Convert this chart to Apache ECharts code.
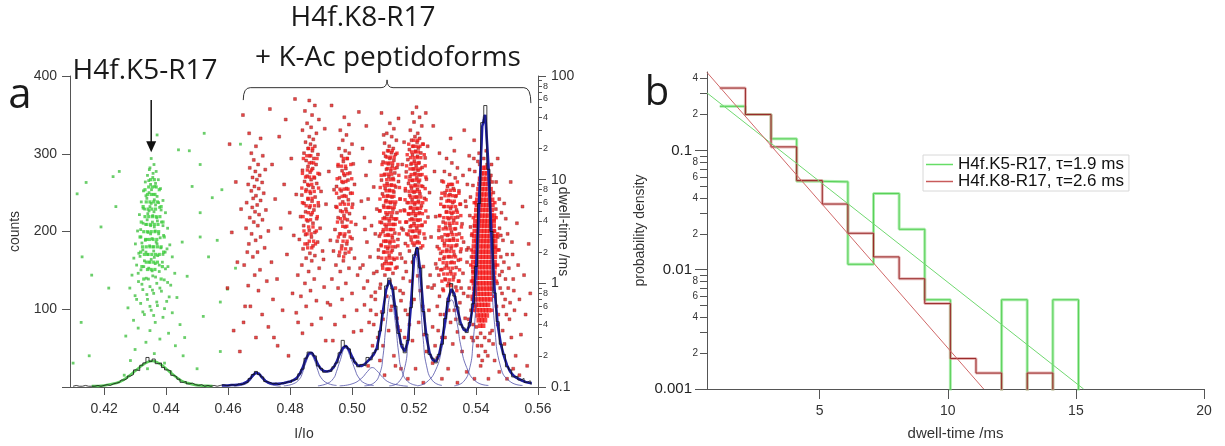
<!DOCTYPE html>
<html><head><meta charset="utf-8">
<script src="https://cdn.jsdelivr.net/npm/echarts@6/dist/echarts.min.js"></script>
<style>html,body{margin:0;padding:0;background:#fff}#c{width:1225px;height:446px}</style>
</head><body><div id="c"></div>
<script>
// ================= DATA =================
const xTicksA = [0.42,0.44,0.46,0.48,0.50,0.52,0.54,0.56];
const countTicks = [0,100,200,300,400];
const countLabels = [100,200,300,400];
const dwellMajor = [0.1,1,10,100];
const dwellMinorAll = [0.2,0.3,0.4,0.5,0.6,0.7,0.8,0.9,2,3,4,5,6,7,8,9,20,30,40,50,60,70,80,90];
const dwellMinorLabeled = [0.2,0.4,0.6,0.8,2,4,6,8,20,40,60,80];
const xTicksB = [5,10,15,20];
const probMajor = [0.001,0.01,0.1];
const probMinorAll = [0.002,0.003,0.004,0.005,0.006,0.007,0.008,0.009,0.02,0.03,0.04,0.05,0.06,0.07,0.08,0.09,0.2,0.3,0.4];
const probMinorLabeled = [0.002,0.004,0.006,0.008,0.02,0.04,0.06,0.08,0.2,0.4];

// Panel a: current histogram (counts), bin centres from 0.410 step 0.001
const histStart = 0.410, histStep = 0.001;
const histCounts = [
 1,2,1,1,2,1,1,1,2,1,
 2,3,2,4,5,6,9,11,14,16,
 22,21,28,31,38,33,36,30,31,25,
 22,21,15,13,10,6,7,4,5,3,
 2,3,1,2,1,2,1,2,3,2,
 2,3,2,4,3,5,6,11,16,20,
 16,13,7,6,4,5,3,5,5,7,
 6,9,10,17,23,37,45,43,40,27,
 24,19,21,20,26,31,44,60,52,49,
 37,32,26,29,27,38,35,44,48,72,
 95,130,140,126,104,69,55,44,60,102,
 170,178,153,97,68,42,37,31,42,55,
 88,110,133,117,103,80,76,70,83,107,
 155,236,340,362,280,200,121,84,55,42,
 26,22,13,14,9,11,6,8,4];
// Total fit (blue), sampled from 0.458 step 0.001
const fitStart = 0.458, fitStep = 0.001;
const totalFit = [
 2,2,2,2.5,2.5,3,3.5,4.5,6.5,10,
 15,18.5,17,12,8,5.5,4.5,4,4,4.5,
 5,6,7,8.5,11,16,24,35,43,44,
 38,29,23,20.5,20,21,25,32,42,50,
 53,48,39,31,27.5,27,29,33,37,42,
 50,70,98,125,137,128,100,72,52,46,
 58,105,165,180,150,100,65,44,35,33,
 40,58,85,113,126,120,100,83,74,72,
 80,105,150,240,335,350,285,195,125,80,
 55,40,28,20,15,12,10,8,6.5,5.5,
 5];
const k5Fit = [[0.416,1.2],[0.420,2],[0.424,5],[0.426,8.5],[0.428,14],[0.430,20.5],[0.432,27],[0.434,32],[0.4355,33.5],[0.437,32],[0.439,27],[0.441,20],[0.443,13.5],[0.445,8],[0.447,5],[0.449,3],[0.451,2],[0.453,1.5],[0.455,1.2]];
const compA = [[0.462,1],[0.464,2],[0.466,4.5],[0.467,8],[0.468,13],[0.4694,17],[0.471,12],[0.472,8],[0.473,4.5],[0.475,2],[0.477,1]];
const compB = [[0.478,1.5],[0.481,4],[0.483,10],[0.484,18],[0.485,30],[0.4866,42],[0.488,33],[0.489,21],[0.490,12],[0.492,5],[0.495,2]];
const compC = [[0.489,1.5],[0.492,4.5],[0.494,11],[0.495,20],[0.496,32],[0.4979,50],[0.4995,38],[0.501,22],[0.502,13],[0.504,5],[0.507,2]];
const compD = [[0.496,1.5],[0.500,4],[0.503,11],[0.505,20],[0.5065,25],[0.508,21],[0.510,12],[0.512,6],[0.515,2.5],[0.518,1]];
const compE = [[0.504,1.5],[0.507,5],[0.509,18],[0.510,40],[0.511,80],[0.5125,118],[0.514,82],[0.515,45],[0.516,22],[0.518,7],[0.521,2]];
const compF = [[0.512,1.5],[0.515,6],[0.517,25],[0.518,55],[0.519,105],[0.5205,168],[0.522,110],[0.523,60],[0.524,28],[0.526,8],[0.529,2]];
const compG = [[0.521,1.5],[0.524,6],[0.527,22],[0.529,50],[0.530,75],[0.5321,112],[0.534,80],[0.535,55],[0.537,25],[0.540,7],[0.544,2]];
const compH = [[0.533,1.5],[0.536,7],[0.538,25],[0.539,55],[0.540,110],[0.541,200],[0.5426,350],[0.544,250],[0.545,150],[0.546,80],[0.548,25],[0.551,7],[0.555,2]];

// Scatter events: flat pairs (I/Io, dwell-time ms)
const k5Events = [
 0.4352,16,0.4361,14,0.4348,13,0.4368,12,0.4340,11,0.4357,10.5,0.4375,10,0.4333,9.5,0.4350,9,0.4364,8.6,0.4382,8.2,0.4327,7.8,0.4345,7.5,0.4359,7.2,0.4371,6.9,0.4338,6.6,0.4390,6.3,0.4320,6.1,0.4352,5.9,0.4366,5.7,0.4379,5.4,0.4331,5.2,0.4345,5.0,0.4398,4.8,0.4314,4.6,0.4357,4.5,0.4370,4.3,0.4339,4.1,0.4385,3.9,0.4326,3.8,0.4350,3.6,0.4362,3.5,0.4405,3.4,0.4308,3.2,0.4342,3.1,0.4376,3.0,0.4392,2.9,0.4319,2.8,0.4355,2.7,0.4333,2.6,0.4368,2.5,0.4301,2.4,0.4412,2.35,0.4347,2.3,0.4383,2.2,0.4325,2.1,0.4360,2.05,0.4397,2.0,0.4312,1.95,0.4340,1.9,0.4373,1.85,0.4420,1.8,0.4296,1.75,0.4352,1.7,0.4330,1.65,0.4388,1.6,0.4365,1.55,0.4305,1.5,0.4406,1.45,0.4344,1.4,0.4319,1.35,0.4378,1.3,0.4428,1.25,0.4290,1.2,0.4357,1.18,0.4336,1.12,0.4394,1.08,0.4311,1.04,0.4370,1.0,0.4415,0.96,0.4348,0.93,0.4283,0.9,0.4325,0.87,0.4385,0.84,0.4360,0.8,0.4300,0.76,0.4435,0.73,0.4340,0.7,0.4402,0.67,0.4318,0.64,0.4372,0.61,0.4277,0.58,0.4352,0.55,0.4420,0.52,0.4330,0.5,0.4390,0.47,0.4295,0.44,0.4365,0.42,0.4445,0.4,0.4310,0.37,0.4348,0.35,0.4408,0.33,0.4270,0.31,0.4380,0.29,0.4335,0.27,0.4430,0.25,0.4300,0.23,0.4362,0.21,0.4455,0.2,0.4285,0.18,0.4395,0.17,0.4340,0.15,0.4415,0.14,0.4265,0.13,
 0.4346,12.5,0.4358,11.5,0.4344,9.8,0.4366,9.2,0.4353,8.0,0.4335,7.0,0.4362,6.4,0.4376,6.0,0.4348,5.5,0.4326,5.3,0.4384,5.1,0.4361,4.9,0.4341,4.7,0.4372,4.0,0.4356,3.9,0.4334,3.7,0.4390,3.6,0.4318,3.3,0.4365,3.2,0.4350,3.0,0.4381,2.75,0.4338,2.65,0.4322,2.45,0.4371,2.4,0.4358,2.25,0.4403,2.15,0.4335,2.0,0.4390,1.9,0.4316,1.82,0.4362,1.78,0.4345,1.6,0.4378,1.5,0.4328,1.45,0.4398,1.38,0.4355,1.32,0.4310,1.25,0.4366,1.15,0.4343,1.1,0.4405,1.02,0.4322,0.98,0.4380,0.9,0.4356,0.86,0.4338,0.78,0.4410,0.74,0.4305,0.7,0.4370,0.66,0.4348,0.6,0.4395,0.57,0.4325,0.53,0.4360,0.49,
 0.4113,7.3,0.4142,9.4,0.4129,1.8,0.4160,1.2,0.4126,0.42,0.4152,0.2,0.4100,0.17,0.4371,27,0.4523,28,0.4440,19.4,0.4475,19,0.4510,14,0.4249,12,0.4229,10.7,0.4484,8.6,0.4549,6.7,0.4580,8,0.4510,4.8,0.4452,2.5,0.4510,2.8,0.4565,2.6,0.4537,1.8,0.4468,1.17,0.4520,0.48,0.4640,22,0.4624,1.4,0.4598,0.88,0.4575,0.66,0.4575,0.22,0.4190,3.5,0.4215,0.9,0.4238,5.5,0.4460,0.3,0.4500,0.15];
const redEvents = [
 // ~0.469
 0.4668,28,0.4705,25,0.4690,21,0.4675,18,0.4712,17,0.4683,15.5,0.4697,14,0.4670,13,0.4720,12.5,0.4688,12,0.4702,11,0.4679,10.5,0.4693,10,0.4710,9.4,0.4665,9,0.4685,8.6,0.4699,8.2,0.4675,7.8,0.4715,7.4,0.4690,7,0.4681,6.6,0.4705,6.3,0.4660,6,0.4694,5.7,0.4678,5.4,0.4722,5.1,0.4687,4.9,0.4700,4.6,0.4670,4.3,0.4711,4.1,0.4683,3.9,0.4696,3.6,0.4658,3.4,0.4730,3.2,0.4676,3.0,0.4705,2.8,0.4689,2.6,0.4667,2.4,0.4718,2.2,0.4695,2.0,0.4680,1.8,0.4740,1.6,0.4652,1.5,0.4703,1.35,0.4686,1.2,0.4725,1.05,0.4665,0.95,0.4698,0.85,0.4745,0.7,0.4672,0.6,0.4710,0.5,0.4650,0.42,0.4730,0.38,0.4690,0.3,0.4760,0.25,
 // ~0.487
 0.4862,58,0.4880,52,0.4848,46,0.4871,42,0.4893,38,0.4855,35,0.4868,32,0.4840,30,0.4885,28,0.4862,26,0.4875,24.5,0.4850,23,0.4866,22,0.4880,21,0.4858,20,0.4872,19,0.4845,18,0.4890,17.5,0.4863,17,0.4877,16,0.4852,15.3,0.4869,14.6,0.4884,14,0.4858,13.4,0.4873,12.8,0.4840,12.3,0.4865,11.8,0.4895,11.3,0.4855,10.8,0.4879,10.4,0.4868,10,0.4847,9.6,0.4886,9.2,0.4860,8.8,0.4874,8.4,0.4852,8,0.4900,7.7,0.4866,7.4,0.4838,7.1,0.4881,6.8,0.4858,6.5,0.4871,6.2,0.4845,5.9,0.4892,5.6,0.4863,5.4,0.4877,5.1,0.4850,4.9,0.4868,4.6,0.4834,4.4,0.4886,4.2,0.4857,4.0,0.4874,3.8,0.4844,3.6,0.4897,3.4,0.4862,3.25,0.4880,3.1,0.4850,2.95,0.4869,2.8,0.4830,2.65,0.4889,2.5,0.4856,2.4,0.4874,2.3,0.4842,2.15,0.4905,2.05,0.4864,1.95,0.4880,1.85,0.4852,1.75,0.4870,1.65,0.4838,1.5,0.4894,1.4,0.4860,1.3,0.4825,1.2,0.4878,1.1,0.4848,1.0,0.4910,0.92,0.4866,0.85,0.4835,0.75,0.4885,0.68,0.4852,0.6,0.4820,0.52,0.4900,0.46,0.4870,0.4,0.4840,0.33,0.4915,0.28,
 // ~0.498
 0.4975,40,0.4990,34,0.4962,30,0.4982,27,0.4970,24,0.5000,22,0.4958,20,0.4978,19,0.4991,18,0.4966,17,0.4984,16,0.4972,15,0.5004,14.2,0.4955,13.5,0.4980,12.8,0.4968,12.2,0.4993,11.6,0.4976,11,0.4960,10.4,0.4987,9.9,0.4971,9.4,0.5008,9,0.4950,8.6,0.4982,8.2,0.4965,7.8,0.4995,7.4,0.4975,7,0.4958,6.7,0.4988,6.4,0.4970,6.1,0.5002,5.8,0.4948,5.5,0.4980,5.2,0.4963,5,0.4992,4.7,0.4974,4.5,0.4955,4.3,0.4985,4.1,0.4968,3.9,0.5012,3.7,0.4978,3.5,0.4945,3.3,0.4990,3.15,0.4960,3.0,0.4975,2.85,0.5000,2.7,0.4952,2.55,0.4983,2.4,0.4967,2.3,0.4996,2.15,0.4940,2.05,0.4978,1.95,0.4958,1.85,0.5008,1.75,0.4972,1.65,0.4948,1.5,0.4990,1.4,0.4962,1.3,0.5018,1.2,0.4935,1.1,0.4980,1.0,0.4955,0.9,0.5000,0.8,0.4968,0.7,0.4930,0.62,0.5015,0.55,0.4975,0.48,0.4945,0.4,0.5005,0.34,
 // ~0.506 shoulder
 0.5058,15,0.5045,11,0.5070,8.5,0.5052,6.5,0.5080,5.2,0.5040,4.3,0.5063,3.6,0.5075,3.0,0.5048,2.5,0.5085,2.1,0.5058,1.8,0.5035,1.5,0.5070,1.25,0.5050,1.05,0.5090,0.9,0.5062,0.75,0.5040,0.62,0.5078,0.5,0.5055,0.42,0.5030,0.35,0.5083,0.3,0.5066,0.25,
 // ~0.5125
 0.5122,35,0.5135,31,0.5112,28,0.5128,26,0.5143,24,0.5105,22.5,0.5120,21,0.5133,20,0.5115,19,0.5127,18.2,0.5140,17.5,0.5108,16.8,0.5122,16,0.5135,15.4,0.5100,14.8,0.5117,14.2,0.5130,13.6,0.5145,13.1,0.5111,12.6,0.5125,12.1,0.5138,11.6,0.5104,11.1,0.5119,10.7,0.5132,10.3,0.5095,9.9,0.5150,9.6,0.5113,9.2,0.5127,8.9,0.5141,8.5,0.5107,8.2,0.5121,7.9,0.5135,7.6,0.5098,7.3,0.5115,7.0,0.5129,6.8,0.5155,6.5,0.5110,6.3,0.5124,6.0,0.5138,5.8,0.5102,5.6,0.5118,5.4,0.5132,5.2,0.5090,5.0,0.5145,4.8,0.5113,4.6,0.5127,4.45,0.5105,4.3,0.5140,4.15,0.5120,4.0,0.5095,3.85,0.5134,3.7,0.5110,3.55,0.5160,3.4,0.5125,3.3,0.5100,3.15,0.5138,3.05,0.5116,2.95,0.5088,2.85,0.5130,2.75,0.5148,2.65,0.5108,2.55,0.5122,2.45,0.5094,2.35,0.5140,2.25,0.5115,2.17,0.5130,2.08,0.5102,2.0,0.5155,1.92,0.5120,1.85,0.5085,1.78,0.5136,1.7,0.5110,1.63,0.5126,1.56,0.5098,1.5,0.5145,1.43,0.5116,1.37,0.5080,1.3,0.5132,1.25,0.5106,1.2,0.5165,1.12,0.5122,1.05,0.5092,0.98,0.5140,0.9,0.5075,0.82,0.5112,0.75,0.5158,0.68,0.5128,0.6,0.5096,0.53,0.5145,0.46,0.5070,0.4,0.5118,0.35,0.5170,0.3,0.5100,0.25,0.5135,0.2,
 // ~0.5205
 0.5208,50,0.5195,44,0.5218,40,0.5200,36,0.5225,33,0.5188,30,0.5212,28,0.5203,26,0.5218,25,0.5192,24,0.5210,23,0.5228,22,0.5198,21,0.5214,20.2,0.5185,19.5,0.5205,18.8,0.5222,18.1,0.5195,17.4,0.5211,16.8,0.5236,16.2,0.5180,15.6,0.5201,15.1,0.5216,14.6,0.5190,14.1,0.5207,13.6,0.5226,13.1,0.5197,12.7,0.5213,12.3,0.5175,11.9,0.5203,11.5,0.5220,11.1,0.5187,10.7,0.5209,10.4,0.5240,10.1,0.5195,9.8,0.5215,9.5,0.5182,9.2,0.5204,8.9,0.5228,8.6,0.5192,8.3,0.5211,8.05,0.5172,7.8,0.5200,7.55,0.5219,7.3,0.5186,7.05,0.5207,6.8,0.5234,6.6,0.5194,6.4,0.5214,6.2,0.5178,6.0,0.5202,5.8,0.5224,5.6,0.5189,5.4,0.5210,5.25,0.5168,5.1,0.5198,4.95,0.5218,4.8,0.5183,4.65,0.5205,4.5,0.5245,4.35,0.5193,4.2,0.5213,4.05,0.5176,3.9,0.5200,3.78,0.5226,3.65,0.5188,3.52,0.5209,3.4,0.5165,3.28,0.5196,3.16,0.5217,3.05,0.5181,2.94,0.5204,2.83,0.5235,2.72,0.5191,2.62,0.5212,2.52,0.5172,2.42,0.5200,2.33,0.5222,2.2,0.5185,2.05,0.5208,1.9,0.5160,1.75,0.5195,1.6,0.5230,1.45,0.5175,1.3,0.5212,1.18,0.5188,1.05,0.5245,0.92,0.5165,0.8,0.5200,0.7,0.5228,0.6,0.5180,0.5,0.5215,0.42,0.5155,0.35,0.5195,0.28,0.5240,0.22,
 // ~0.532
 0.5318,25,0.5330,19,0.5305,16,0.5322,14.5,0.5340,13,0.5298,12,0.5315,11.2,0.5333,10.4,0.5290,9.7,0.5320,9.0,0.5308,8.6,0.5327,8.2,0.5345,7.8,0.5300,7.5,0.5316,7.2,0.5334,6.9,0.5288,6.6,0.5311,6.3,0.5325,6.0,0.5350,5.8,0.5296,5.5,0.5318,5.3,0.5337,5.1,0.5305,4.9,0.5322,4.7,0.5283,4.5,0.5341,4.35,0.5312,4.2,0.5328,4.05,0.5294,3.9,0.5355,3.75,0.5316,3.6,0.5302,3.48,0.5334,3.36,0.5280,3.24,0.5321,3.12,0.5346,3.0,0.5308,2.9,0.5290,2.8,0.5327,2.7,0.5315,2.6,0.5360,2.5,0.5298,2.42,0.5338,2.34,0.5275,2.26,0.5320,2.18,0.5306,2.1,0.5350,2.02,0.5286,1.95,0.5330,1.88,0.5313,1.81,0.5296,1.74,0.5343,1.67,0.5322,1.6,0.5270,1.54,0.5305,1.48,0.5336,1.42,0.5290,1.36,0.5318,1.3,0.5358,1.25,0.5280,1.2,0.5328,1.15,0.5300,1.1,0.5345,1.05,0.5312,1.0,0.5265,0.96,0.5335,0.92,0.5293,0.88,0.5322,0.84,0.5360,0.8,0.5282,0.75,0.5310,0.7,0.5348,0.65,0.5275,0.6,0.5330,0.55,0.5298,0.5,0.5365,0.46,0.5318,0.42,0.5260,0.38,0.5340,0.34,0.5290,0.3,0.5325,0.26,0.5355,0.22,0.5275,0.19,
 // halo around 0.543
 0.5372,9,0.5380,4.5,0.5385,1.8,0.5388,0.7,0.5392,0.4,0.5396,12,0.5398,6,0.5400,2.6,0.5402,1.0,0.5404,0.3,0.5406,15,0.5408,0.2,0.5412,14,0.5418,0.25,0.5425,16,0.5430,0.22,0.5436,14,0.5442,0.28,0.5448,11,0.5452,0.35,0.5456,7.5,0.5460,3.2,0.5463,1.5,0.5466,0.6,0.5470,0.4,0.5474,2.1,0.5478,0.9,0.5482,4.8,0.5486,0.35,0.5490,1.6,0.5494,0.7,0.5452,9.5,0.5464,5.2,0.5470,2.8,0.5476,1.2,0.5395,3.6,0.5390,1.3,0.5384,0.55,0.5378,0.9,0.5375,2.2,
 0.5368,5.5,0.5371,1.6,0.5376,0.45,0.5379,12.5,0.5382,6.8,0.5386,2.9,0.5389,1.05,0.5391,0.28,0.5393,16,0.5397,0.6,0.5401,0.38,0.5405,0.25,0.5410,18,0.5415,0.33,0.5420,0.18,0.5428,0.3,0.5433,19,0.5438,0.2,0.5445,0.33,0.5450,14,0.5455,0.26,0.5458,4.1,0.5461,2.2,0.5465,9.5,0.5468,1.0,0.5472,0.5,0.5476,3.4,0.5480,1.8,0.5484,0.8,0.5487,2.6,0.5491,5.9,0.5495,1.1,0.5498,0.5,0.5502,3.0,0.5506,1.4,0.5510,0.65,0.5514,0.3,0.5518,1.9,0.5522,0.85,
 // background
 0.4598,0.9,0.4605,22,0.4612,3.1,0.4618,0.35,0.4625,9.5,0.4630,1.6,0.4638,0.22,0.4642,5.2,0.4648,42,0.4655,0.6,0.4662,2.0,0.4735,48,0.4742,14,0.4748,0.3,0.4752,6.5,0.4758,1.1,0.4765,26,0.4770,3.4,0.4776,0.55,0.4781,9,0.4786,38,0.4790,1.9,0.4795,0.2,0.4799,4.8,0.4804,16,0.4808,0.8,0.4812,2.9,0.4816,60,0.4820,7.2,0.4826,0.42,0.4908,1.7,0.4912,31,0.4916,5.8,0.4921,0.65,0.4925,12,0.4930,2.6,0.4934,52,0.4938,0.28,0.4942,8,0.5022,45,0.5026,1.4,0.5030,6.2,0.5034,20,0.5038,0.9,0.5042,3.3,0.5046,33,0.5052,0.16,0.5095,44,0.5102,27,0.5150,39,0.5158,0.15,0.5162,14,0.5168,23,0.5172,1.6,0.5238,44,0.5244,21,0.5250,7.5,0.5255,2.8,0.5258,0.9,0.5262,33,0.5266,12,0.5270,4.4,0.5274,1.4,0.5278,0.35,0.5282,18,0.5358,11,0.5362,30,0.5366,6.2,0.5370,2.1,0.5374,0.75,0.5378,17,0.5382,3.5,0.5386,0.3,0.5390,8.8,0.5394,24,0.5470,16,0.5475,6.5,0.5480,2.9,0.5484,1.3,0.5488,0.6,0.5492,0.26,0.5496,4.2,0.5500,1.9,0.5504,0.9,0.5508,0.45,0.5512,9.5,0.5516,2.5,0.5520,1.1,0.5524,0.55,0.5528,0.2,0.5532,3.8,0.5536,1.5,0.5540,0.7,0.5545,0.32,0.5550,5.5,0.5555,1.2,0.5560,0.5,0.5565,0.16,0.5570,2.4,0.5575,0.8,
 0.5090,0.18,0.5105,0.13,0.5140,0.16,0.5180,0.12,0.5205,0.15,0.5230,0.11,0.5260,0.17,0.5290,0.12,0.5310,0.15,0.5340,0.11,0.5370,0.14,0.5395,0.12,0.5415,0.16,0.5440,0.12,0.5460,0.18,0.5475,0.14,0.5500,0.12,0.5520,0.15,0.5540,0.13,
 0.5060,0.55,0.5075,0.7,0.5100,0.45,0.5125,0.55,0.5148,0.38,0.5155,0.85,0.5172,0.55,0.5185,0.4,0.5192,0.65,0.5220,0.85,0.5232,0.32,0.5248,0.55,0.5252,1.2,0.5268,0.25,0.5285,0.5,0.5300,0.3,0.5312,0.55,0.5335,0.45,0.5352,0.9,0.5360,0.3,0.5380,0.4,0.5398,0.85];
// dense parts of populations: [dwell, [I/Io ...]]
const k5CoreRows = [
 [10,[0.4350,0.4362]],[8.5,[0.4344,0.4356,0.4368]],[7.2,[0.4340,0.4352,0.4364]],[6.1,[0.4336,0.4348,0.4360,0.4372]],
 [5.2,[0.4342,0.4354,0.4366]],[4.4,[0.4332,0.4344,0.4356,0.4368,0.4380]],[3.7,[0.4338,0.4350,0.4362,0.4374]],
 [3.15,[0.4328,0.4340,0.4352,0.4364,0.4376]],[2.65,[0.4334,0.4346,0.4358,0.4370]],[2.25,[0.4324,0.4336,0.4348,0.4360,0.4372,0.4384]],
 [1.9,[0.4330,0.4342,0.4354,0.4366,0.4378]],[1.6,[0.4336,0.4348,0.4360,0.4372]],[1.36,[0.4340,0.4352,0.4364]],
 [8,[0.4332,0.4378]],[5.5,[0.4326,0.4384]],[3.9,[0.4320,0.4390]],[2.8,[0.4316,0.4394]],[2.0,[0.4318,0.4392]],[1.45,[0.4322,0.4388]],[1.1,[0.4328,0.4384]]];
const k8CoreRows = [
 // ~0.487
 [20,[0.4860,0.4873]],[17,[0.4854,0.4867]],[14.5,[0.4862,0.4876]],[12.4,[0.4856,0.4869]],[10.6,[0.4850,0.4863,0.4877]],[9,[0.4857,0.4870]],
 [7.7,[0.4851,0.4864,0.4878]],[6.6,[0.4858,0.4871]],[5.6,[0.4852,0.4865,0.4879]],[4.8,[0.4859,0.4872]],[4.1,[0.4853,0.4866]],[3.5,[0.4860,0.4874]],
 [3.0,[0.4855,0.4868]],[2.55,[0.4862,0.4876]],[2.2,[0.4857,0.4870]],
 [16,[0.4843,0.4887]],[11.5,[0.4840,0.4890]],[8.3,[0.4838,0.4892]],[6,[0.4840,0.4891]],[4.4,[0.4842,0.4888]],[3.2,[0.4845,0.4885]],[2.4,[0.4848,0.4882]],
 // ~0.498
 [16,[0.4972,0.4985]],[13.5,[0.4966,0.4979]],[11.4,[0.4973,0.4986]],[9.6,[0.4967,0.4980]],[8.1,[0.4961,0.4974,0.4987]],[6.9,[0.4968,0.4981]],
 [5.8,[0.4962,0.4975,0.4988]],[4.9,[0.4969,0.4982]],[4.2,[0.4963,0.4976]],[3.55,[0.4970,0.4983]],[3.0,[0.4964,0.4977]],[2.55,[0.4971,0.4984]],
 [2.15,[0.4966,0.4979]],[1.8,[0.4973]],
 [14,[0.4955,0.4996]],[10.2,[0.4952,0.4999]],[7.4,[0.4950,0.5001]],[5.4,[0.4951,0.5000]],[3.9,[0.4953,0.4997]],[2.8,[0.4956,0.4994]],[2.0,[0.4960,0.4990]],
 // ~0.5125
 [19,[0.5118,0.5130]],[16.5,[0.5113,0.5124,0.5136]],[14.5,[0.5109,0.5120,0.5131]],[12.8,[0.5115,0.5126,0.5138]],[11.3,[0.5106,0.5117,0.5128]],
 [10,[0.5112,0.5123,0.5134]],[8.8,[0.5104,0.5115,0.5126,0.5137]],[7.8,[0.5110,0.5121,0.5132]],[6.9,[0.5102,0.5113,0.5124,0.5135]],
 [6.1,[0.5108,0.5119,0.5130,0.5141]],[5.4,[0.5103,0.5114,0.5125,0.5136]],[4.8,[0.5109,0.5120,0.5131]],[4.2,[0.5100,0.5111,0.5122,0.5133,0.5144]],
 [3.7,[0.5106,0.5117,0.5128,0.5139]],[3.3,[0.5101,0.5112,0.5123,0.5134]],[2.9,[0.5107,0.5118,0.5129]],[2.55,[0.5102,0.5113,0.5124,0.5135]],
 [2.25,[0.5108,0.5119,0.5130]],[2.0,[0.5104,0.5115,0.5126]],[1.75,[0.5110,0.5121,0.5132]],[1.55,[0.5105,0.5116,0.5127]],[1.37,[0.5111,0.5122]],
 [18,[0.5102,0.5145]],[14,[0.5097,0.5148]],[11,[0.5094,0.5151]],[8.4,[0.5091,0.5153]],[6.5,[0.5090,0.5155]],[5.0,[0.5089,0.5156]],[3.9,[0.5090,0.5154]],
 [3.0,[0.5092,0.5152]],[2.3,[0.5094,0.5148]],[1.75,[0.5096,0.5145]],[1.4,[0.5099,0.5140]],
 // ~0.5205
 [24,[0.5200,0.5212]],[21,[0.5195,0.5207,0.5219]],[18.5,[0.5192,0.5203,0.5214]],[16.3,[0.5189,0.5200,0.5211,0.5222]],[14.4,[0.5193,0.5204,0.5215]],
 [12.7,[0.5187,0.5198,0.5209,0.5220]],[11.2,[0.5191,0.5202,0.5213,0.5226]],[9.9,[0.5185,0.5196,0.5207,0.5218]],[8.7,[0.5190,0.5201,0.5212,0.5223]],
 [7.7,[0.5184,0.5195,0.5206,0.5217]],[6.8,[0.5189,0.5200,0.5211,0.5222]],[6.0,[0.5183,0.5194,0.5205,0.5216,0.5228]],[5.3,[0.5188,0.5199,0.5210,0.5221]],
 [4.7,[0.5182,0.5193,0.5204,0.5215,0.5227]],[4.1,[0.5187,0.5198,0.5209,0.5220]],[3.6,[0.5192,0.5203,0.5214,0.5225]],[3.2,[0.5185,0.5196,0.5207,0.5218]],
 [2.8,[0.5190,0.5201,0.5212]],[2.45,[0.5195,0.5206,0.5217]],
 [22,[0.5183,0.5230]],[17.4,[0.5178,0.5233]],[13.6,[0.5176,0.5236]],[10.6,[0.5174,0.5238]],[8.2,[0.5172,0.5236]],[6.4,[0.5171,0.5239]],
 [5.0,[0.5170,0.5238]],[3.9,[0.5173,0.5236]],[3.0,[0.5176,0.5232]],[2.3,[0.5180,0.5228]],
 // ~0.532
 [9,[0.5312,0.5324]],[7.9,[0.5306,0.5318,0.5330]],[7.0,[0.5300,0.5312,0.5324,0.5336]],[6.2,[0.5306,0.5318,0.5330]],[5.5,[0.5298,0.5310,0.5322,0.5334]],
 [4.85,[0.5304,0.5316,0.5328,0.5340]],[4.3,[0.5296,0.5308,0.5320,0.5332]],[3.8,[0.5302,0.5314,0.5326,0.5338]],[3.35,[0.5294,0.5306,0.5318,0.5330]],
 [2.95,[0.5300,0.5312,0.5324,0.5336]],[2.6,[0.5292,0.5304,0.5316,0.5328,0.5340]],[2.3,[0.5298,0.5310,0.5322,0.5334]],[2.03,[0.5292,0.5304,0.5316,0.5328]],
 [1.8,[0.5298,0.5310,0.5322,0.5334]],[1.58,[0.5294,0.5306,0.5318,0.5330]],[1.4,[0.5300,0.5312,0.5324]],[1.23,[0.5296,0.5308,0.5320,0.5332]],
 [1.08,[0.5302,0.5314,0.5326]],[0.95,[0.5308,0.5320]],
 [9.5,[0.5295,0.5340]],[7.4,[0.5290,0.5345]],[5.8,[0.5286,0.5348]],[4.5,[0.5283,0.5351]],[3.5,[0.5281,0.5353]],[2.75,[0.5280,0.5354]],
 [2.15,[0.5281,0.5352]],[1.7,[0.5283,0.5350]],[1.35,[0.5286,0.5347]],[1.05,[0.5290,0.5343]],[0.85,[0.5295,0.5338]],
 // flanks of ~0.543
 [6,[0.5394,0.5461]],[4.3,[0.5391,0.5465]],[3.0,[0.5387,0.5470]],[2.1,[0.5385,0.5471]],[1.5,[0.5383,0.5470]],[1.05,[0.5385,0.5466]],[0.75,[0.5387,0.5458]],[0.55,[0.5392,0.5452]]];
// solid core of the 0.543 population
const mainCoreRows = [
 [13,[0.5422,0.5431]],[11.5,[0.5417,0.5427,0.5437]],[10.2,[0.5413,0.5424,0.5434,0.5443]],[9.1,[0.5411,0.5421,0.5431,0.5441]],
 [8.1,[0.5408,0.5418,0.5428,0.5438,0.5447]],[7.2,[0.5406,0.5416,0.5426,0.5436,0.5446]],[6.4,[0.5404,0.5414,0.5424,0.5434,0.5444,0.5452]],
 [5.7,[0.5403,0.5413,0.5423,0.5433,0.5443,0.5453]],[5.1,[0.5401,0.5411,0.5421,0.5431,0.5441,0.5451]],[4.5,[0.5400,0.5410,0.5420,0.5430,0.5440,0.5450,0.5458]],
 [4.0,[0.5398,0.5408,0.5418,0.5428,0.5438,0.5448,0.5457]],[3.6,[0.5397,0.5407,0.5417,0.5427,0.5437,0.5447,0.5457]],[3.2,[0.5396,0.5406,0.5416,0.5426,0.5436,0.5446,0.5456]],
 [2.85,[0.5395,0.5405,0.5415,0.5425,0.5435,0.5445,0.5455,0.5463]],[2.55,[0.5394,0.5404,0.5414,0.5424,0.5434,0.5444,0.5454,0.5462]],
 [2.27,[0.5393,0.5403,0.5413,0.5423,0.5433,0.5443,0.5453,0.5462]],[2.02,[0.5392,0.5402,0.5412,0.5422,0.5432,0.5442,0.5452,0.5461]],
 [1.8,[0.5392,0.5402,0.5412,0.5422,0.5432,0.5442,0.5452,0.5461]],[1.6,[0.5391,0.5401,0.5411,0.5421,0.5431,0.5441,0.5451,0.5460]],
 [1.43,[0.5391,0.5401,0.5411,0.5421,0.5431,0.5441,0.5451,0.5460]],[1.27,[0.5392,0.5402,0.5412,0.5422,0.5432,0.5442,0.5452,0.5459]],
 [1.13,[0.5392,0.5402,0.5412,0.5422,0.5432,0.5442,0.5452,0.5458]],[1.0,[0.5393,0.5403,0.5413,0.5423,0.5433,0.5443,0.5452]],
 [0.89,[0.5394,0.5404,0.5414,0.5424,0.5434,0.5444,0.5452]],[0.79,[0.5395,0.5405,0.5415,0.5425,0.5435,0.5445]],
 [0.7,[0.5397,0.5407,0.5417,0.5427,0.5437,0.5447]],[0.62,[0.5399,0.5409,0.5419,0.5429,0.5439]],[0.55,[0.5402,0.5412,0.5422,0.5432,0.5442]],
 [0.49,[0.5405,0.5415,0.5425,0.5435]],[0.44,[0.5409,0.5419,0.5429]],[0.39,[0.5413,0.5423]]];

// Panel b: dwell-time histograms (probability density), bin edges in ms
const binEdges = [1.1,2.1,3.1,4.1,5.1,6.1,7.1,8.1,9.1,10.1,11.1,12.1,13.1,14.1,15.1];
const k5Density = [0.234,0.2,0.125,0.055,0.0545,0.0111,0.0435,0.0218,0.0056,0,0,0.0056,0,0.0056];
const k8Density = [0.333,0.2,0.107,0.056,0.0355,0.0202,0.0128,0.0084,0.0052,0.0018,0.00136,0,0.00136];
const k5FitLine = [[0.6,0.303],[15.3,0.001]];
const k8FitLine = [[0.6,0.45],[11.4,0.001]];
const k5Name = 'H4f.K5-R17, \u03c4=1.9 ms';
const k8Name = 'H4f.K8-R17, \u03c4=2.6 ms';

// ================= BUILD =================
const L = v => Math.round(Math.log10(v) * 1e9) / 1e9;
const pairsLog = flat => { const o = []; for (let i = 0; i < flat.length; i += 2) o.push([flat[i], L(flat[i + 1])]); return o; };
const rowsLog = rows => { const o = []; rows.forEach(r => r[1].forEach(x => o.push([x, L(r[0])]))); return o; };
const histData = histCounts.map((c, i) => [+(histStart + i * histStep).toFixed(4), c]);
const totalData = totalFit.map((c, i) => [+(fitStart + i * fitStep).toFixed(4), c]);
const stepData = (edges, vals) => { const d = vals.map((v, i) => [edges[i], v > 0 ? L(v) : -4]); d.push([edges[vals.length], -4]); return d; };
const logLine = pts => pts.map(p => [p[0], L(p[1])]);

const FONT = 'Liberation Sans';
const AX = '#555';
const majorFmt = v => { const d = Math.pow(10, v); return String(parseFloat(d.toPrecision(3))); };
const minorFmt = v => { const d = Math.pow(10, v); const e = Math.floor(Math.log10(d) + 1e-9); return String(Math.round(d / Math.pow(10, e))); };

const chart = echarts.init(document.getElementById('c'), null, {renderer: 'canvas'});
const comps = [compA, compB, compC, compD, compE, compF, compG, compH];

const option = {
  backgroundColor: '#fff',
  animation: false,
  textStyle: {fontFamily: FONT},
  grid: [
    {left: 70, top: 76, width: 468, height: 312},
    {left: 707, top: 72, width: 497, height: 318}
  ],
  legend: {
    left: 923, top: 155, orient: 'vertical', padding: [1, 5, 1, 3], itemGap: 0,
    itemWidth: 27, itemHeight: 1.5, borderColor: '#d8d8d8', borderWidth: 1, backgroundColor: '#fff',
    textStyle: {fontSize: 17, color: '#111', fontFamily: FONT, lineHeight: 17},
    data: [{name: k5Name, icon: 'rect'}, {name: k8Name, icon: 'rect'}]
  },
  xAxis: [
    {gridIndex: 0, type: 'value', min: 0.409, max: 0.56, splitLine: {show: false},
     axisLine: {onZero: false, lineStyle: {color: AX}},
     axisTick: {customValues: xTicksA, length: 8, lineStyle: {color: AX}},
     axisLabel: {customValues: xTicksA, formatter: v => v.toFixed(2), fontSize: 14, color: '#333', margin: 15},
     name: 'I/Io', nameLocation: 'middle', nameGap: 40, nameMoveOverlap: false, nameTextStyle: {fontSize: 14, color: '#333'}},
    {gridIndex: 1, type: 'value', min: 0.6, max: 20, splitLine: {show: false},
     axisLine: {onZero: false, lineStyle: {color: AX}},
     axisTick: {customValues: xTicksB, length: 10, lineStyle: {color: AX}},
     axisLabel: {customValues: xTicksB, fontSize: 14, color: '#333', margin: 15},
     name: 'dwell-time /ms', nameLocation: 'middle', nameGap: 37, nameMoveOverlap: false, nameTextStyle: {fontSize: 15, color: '#333'}}
  ],
  yAxis: [
    {gridIndex: 0, type: 'value', min: 0, max: 400, position: 'left', splitLine: {show: false},
     axisLine: {show: true, lineStyle: {color: AX}},
     axisTick: {show: true, customValues: countTicks, length: 8, lineStyle: {color: AX}},
     axisLabel: {customValues: countLabels, fontSize: 14, color: '#333', margin: 13},
     name: 'counts', nameLocation: 'middle', nameGap: 48, nameRotate: 90, nameMoveOverlap: false, nameTextStyle: {fontSize: 14, color: '#333'}},
    {gridIndex: 0, type: 'value', min: -1, max: 2, position: 'right', splitLine: {show: false},
     axisLine: {show: true, lineStyle: {color: AX}},
     axisTick: {show: true, customValues: dwellMajor.map(L), length: 8, lineStyle: {color: AX}},
     axisLabel: {customValues: dwellMajor.map(L), formatter: majorFmt, fontSize: 14, color: '#333', margin: 13},
     name: 'dwell-time /ms', nameLocation: 'middle', nameGap: 18, nameRotate: -90, nameMoveOverlap: false, nameTextStyle: {fontSize: 14, color: '#333'}},
    {gridIndex: 0, type: 'value', min: -1, max: 2, position: 'right', splitLine: {show: false},
     axisLine: {show: false},
     axisTick: {show: true, customValues: dwellMinorAll.map(L), length: 4, lineStyle: {color: AX}},
     axisLabel: {customValues: dwellMinorLabeled.map(L), formatter: minorFmt, fontSize: 9, color: '#333', margin: 5}},
    {gridIndex: 1, type: 'value', min: -3, max: -0.343, position: 'left', splitLine: {show: false},
     axisLine: {show: true, lineStyle: {color: AX}},
     axisTick: {show: true, customValues: probMajor.map(L), length: 12, lineStyle: {color: AX}},
     axisLabel: {customValues: probMajor.map(L), formatter: majorFmt, fontSize: 15, color: '#222', margin: 15},
     name: 'probability density', nameLocation: 'middle', nameGap: 60, nameRotate: 90, nameMoveOverlap: false, nameTextStyle: {fontSize: 14, color: '#333'}},
    {gridIndex: 1, type: 'value', min: -3, max: -0.343, position: 'left', splitLine: {show: false},
     axisLine: {show: false},
     axisTick: {show: true, customValues: probMinorAll.map(L), length: 7, lineStyle: {color: AX}},
     axisLabel: {customValues: probMinorLabeled.map(L), formatter: minorFmt, fontSize: 10, color: '#333', margin: 9}}
  ],
  series: [
    {type: 'scatter', name: 'K5 events', xAxisIndex: 0, yAxisIndex: 1, symbol: 'rect', symbolSize: 2.8,
     itemStyle: {color: '#45c245'}, data: pairsLog(k5Events), silent: true, z: 2},
    {type: 'scatter', name: 'K5 dense', xAxisIndex: 0, yAxisIndex: 1, symbol: 'rect', symbolSize: 3.2,
     itemStyle: {color: '#3dd03d'}, data: rowsLog(k5CoreRows), silent: true, z: 2},
    {type: 'scatter', name: 'K8 events', xAxisIndex: 0, yAxisIndex: 1, symbol: 'rect', symbolSize: 2.9,
     itemStyle: {color: '#e41a1a', borderColor: '#8c1a1a', borderWidth: 0.5}, data: pairsLog(redEvents), silent: true, z: 2},
    {type: 'scatter', name: 'K8 dense', xAxisIndex: 0, yAxisIndex: 1, symbol: 'rect', symbolSize: 3.4,
     itemStyle: {color: '#f21818'}, data: rowsLog(k8CoreRows), silent: true, z: 2},
    {type: 'scatter', name: 'K8 core', xAxisIndex: 0, yAxisIndex: 1, symbol: 'rect', symbolSize: 4.6,
     itemStyle: {color: '#f41414'}, data: rowsLog(mainCoreRows), silent: true, z: 2},
    ...comps.map((c, i) => ({type: 'line', name: 'comp' + i, xAxisIndex: 0, yAxisIndex: 0, data: c, smooth: 0.5,
      showSymbol: false, lineStyle: {color: '#5050a8', width: 0.8}, silent: true, z: 3})),
    {type: 'line', name: 'K5 fit', xAxisIndex: 0, yAxisIndex: 0, data: k5Fit, smooth: 0.4, showSymbol: false,
     lineStyle: {color: '#5ccc5c', width: 2.6}, silent: true, z: 4},
    {type: 'line', name: 'total fit', xAxisIndex: 0, yAxisIndex: 0, data: totalData, showSymbol: false,
     lineStyle: {color: '#1e1ea0', width: 2.6}, silent: true, z: 4},
    {type: 'line', name: 'histogram', xAxisIndex: 0, yAxisIndex: 0, data: histData, step: 'middle', showSymbol: false,
     lineStyle: {color: '#111', width: 0.8}, silent: true, z: 5},
    {type: 'line', name: 'k5 hist halo', xAxisIndex: 1, yAxisIndex: 3, data: stepData(binEdges, k5Density), step: 'end', showSymbol: false, clip: true,
     lineStyle: {color: 'rgba(120,225,120,0.6)', width: 3}, silent: true, z: 2},
    {type: 'line', name: 'k5 hist', xAxisIndex: 1, yAxisIndex: 3, data: stepData(binEdges, k5Density), step: 'end', showSymbol: false, clip: true,
     lineStyle: {color: '#58d058', width: 1}, silent: true, z: 3},
    {type: 'line', name: 'k8 hist halo', xAxisIndex: 1, yAxisIndex: 3, data: stepData(binEdges, k8Density), step: 'end', showSymbol: false, clip: true,
     lineStyle: {color: 'rgba(215,140,140,0.6)', width: 3}, silent: true, z: 4},
    {type: 'line', name: 'k8 hist', xAxisIndex: 1, yAxisIndex: 3, data: stepData(binEdges, k8Density), step: 'end', showSymbol: false, clip: true,
     lineStyle: {color: '#982828', width: 1}, silent: true, z: 5},
    {type: 'line', name: k5Name, xAxisIndex: 1, yAxisIndex: 3, data: logLine(k5FitLine), showSymbol: false, clip: true,
     itemStyle: {color: '#66dd66'}, lineStyle: {color: '#70d870', width: 1}, silent: true, z: 6},
    {type: 'line', name: k8Name, xAxisIndex: 1, yAxisIndex: 3, data: logLine(k8FitLine), showSymbol: false, clip: true,
     itemStyle: {color: '#c85a5a'}, lineStyle: {color: '#d06868', width: 1}, silent: true, z: 6}
  ]
};
chart.setOption(option);

// ---- annotations (positioned through the chart's own coordinate system) ----
const P = (x, y) => chart.convertToPixel({xAxisIndex: 0, yAxisIndex: 0}, [x, y]);
const bl = P(0.4649, 369), br = P(0.5577, 369), bt = P(0.5113, 395), bm = P(0.5113, 385);
const yl = bm[1], ye = bl[1], yt = bt[1], x0 = bl[0], x1 = br[0], xm = bt[0];
const a0 = P(0.4352, 369), a1 = P(0.4352, 302);
const S = {stroke: '#333', lineWidth: 1, fill: null};
const graphics = [
  {type: 'bezierCurve', shape: {x1: x0, y1: ye, x2: x0 + 7, y2: yl, cpx1: x0, cpy1: yl}, style: S, silent: true},
  {type: 'line', shape: {x1: x0 + 7, y1: yl, x2: xm - 6, y2: yl}, style: S, silent: true},
  {type: 'bezierCurve', shape: {x1: xm - 6, y1: yl, x2: xm, y2: yt, cpx1: xm, cpy1: yl}, style: S, silent: true},
  {type: 'bezierCurve', shape: {x1: xm, y1: yt, x2: xm + 6, y2: yl, cpx1: xm, cpy1: yl}, style: S, silent: true},
  {type: 'line', shape: {x1: xm + 6, y1: yl, x2: x1 - 7, y2: yl}, style: S, silent: true},
  {type: 'bezierCurve', shape: {x1: x1 - 7, y1: yl, x2: x1, y2: ye + 3, cpx1: x1, cpy1: yl}, style: S, silent: true},
  {type: 'line', shape: {x1: a0[0], y1: a0[1], x2: a1[0], y2: a1[1] - 9}, style: {stroke: '#111', lineWidth: 1.5}, silent: true},
  {type: 'polygon', shape: {points: [[a1[0] - 5, a1[1] - 11], [a1[0] + 5, a1[1] - 11], [a1[0], a1[1]]]}, style: {fill: '#111'}, silent: true},
  {type: 'text', x: 363, y: 18, style: {text: 'H4f.K8-R17', font: '28px "Open Sans"', fill: '#1a1a1a', align: 'center', verticalAlign: 'middle'}, silent: true},
  {type: 'text', x: 388, y: 58, style: {text: '+ K-Ac peptidoforms', font: '28px "Open Sans"', fill: '#1a1a1a', align: 'center', verticalAlign: 'middle'}, silent: true},
  {type: 'text', x: 145, y: 71, style: {text: 'H4f.K5-R17', font: '28px "Open Sans"', fill: '#1a1a1a', align: 'center', verticalAlign: 'middle'}, silent: true},
  {type: 'text', x: 20, y: 96, style: {text: 'a', font: '42px "Open Sans"', fill: '#1a1a1a', align: 'center', verticalAlign: 'middle'}, silent: true},
  {type: 'text', x: 657, y: 94, style: {text: 'b', font: '40px "Open Sans"', fill: '#1a1a1a', align: 'center', verticalAlign: 'middle'}, silent: true}
];
chart.setOption({graphic: graphics});
</script></body></html>
